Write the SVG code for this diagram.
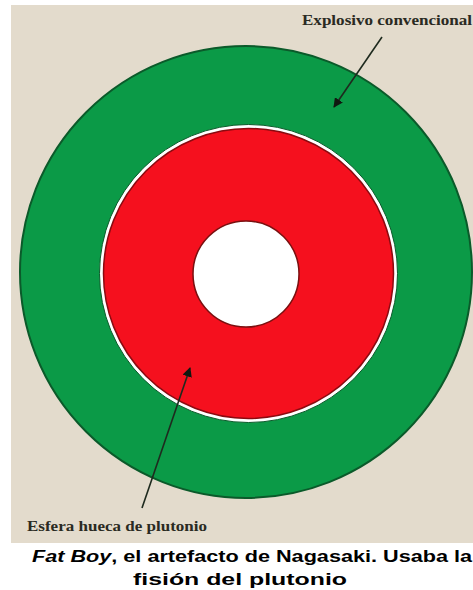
<svg xmlns="http://www.w3.org/2000/svg" width="473" height="590" viewBox="0 0 473 590">
<defs>
<style>
.lbl{font-family:"Liberation Serif","Times New Roman",serif;font-weight:bold;font-size:14px;fill:#2a2a22}
.cap{font-family:"Liberation Sans",Arial,sans-serif;font-weight:bold;font-size:16px;fill:#000}
.conn{stroke:#1e2a1e;stroke-width:1.6;fill:none}
</style>
<marker id="ah" viewBox="0 0 10 10" refX="9" refY="5" markerWidth="6" markerHeight="6" orient="auto-start-reverse" markerUnits="strokeWidth">
<path d="M0,0 L10,5 L0,10 z" fill="#101810"/>
</marker>
</defs>
<rect x="0" y="0" width="473" height="590" fill="#ffffff"/>
<rect x="11" y="5" width="462" height="538" fill="#e3dbcc"/>
<g id="explosivo">
<circle cx="246" cy="272" r="226" fill="#0b9a47" stroke="#0b5a2a" stroke-width="2"/>
</g>
<g id="separador">
<circle cx="248.5" cy="273.5" r="149" fill="#ffffff" stroke="#0b5a2a" stroke-width="1"/>
</g>
<g id="plutonio">
<circle cx="248.5" cy="273.5" r="145" fill="#f5101e" stroke="#8a0a10" stroke-width="1.5"/>
</g>
<g id="hueco">
<circle cx="246" cy="274" r="53" fill="#ffffff" stroke="#7a1010" stroke-width="1.5"/>
</g>
<g id="connectors">
<line class="conn" x1="382" y1="37" x2="334" y2="107" marker-end="url(#ah)"/>
<line class="conn" x1="142" y1="508" x2="190" y2="368" marker-end="url(#ah)"/>
</g>
<g id="labels">
<text class="lbl" x="302" y="25" textLength="170" lengthAdjust="spacingAndGlyphs">Explosivo convencional</text>
<text class="lbl" x="27" y="531" textLength="180" lengthAdjust="spacingAndGlyphs">Esfera hueca de plutonio</text>
</g>
<g id="caption">
<text class="cap" x="32" y="562" textLength="440" lengthAdjust="spacingAndGlyphs"><tspan font-style="italic">Fat Boy</tspan>, el artefacto de Nagasaki. Usaba la</text>
<text class="cap" x="133" y="585" textLength="214" lengthAdjust="spacingAndGlyphs">fisión del plutonio</text>
</g>
</svg>
